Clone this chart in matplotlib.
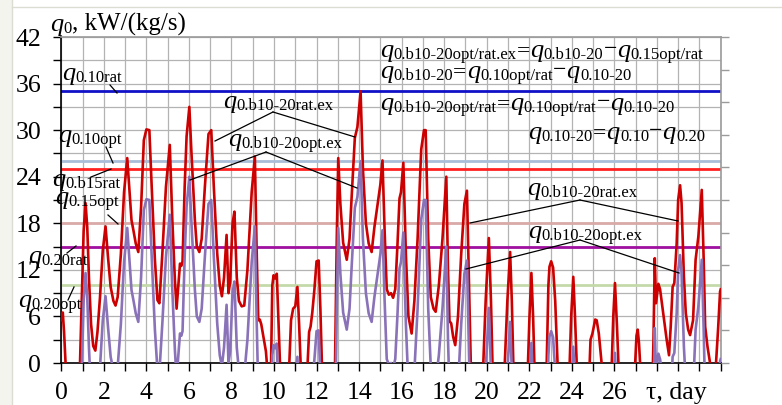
import matplotlib
matplotlib.use('Agg')
import matplotlib.pyplot as plt
from matplotlib.lines import Line2D
from matplotlib.patches import Rectangle
import numpy as np

plt.rcParams['font.family'] = ['Liberation Serif', 'DejaVu Serif']

# ---------------- data ----------------
days = [
    0.00, 0.07, 0.13, 0.20, 0.28, 0.80, 0.88, 0.97, 1.05, 1.14,
    1.22, 1.30, 1.40, 1.50, 1.60, 1.70, 1.82, 1.95, 2.08, 2.20,
    2.32, 2.45, 2.55, 2.65, 2.80, 2.95, 3.10, 3.20, 3.30, 3.39,
    3.50, 3.62, 3.75, 3.88, 4.00, 4.14, 4.25, 4.40, 4.52, 4.61,
    4.75, 4.92, 5.10, 5.22, 5.34, 5.42, 5.58, 5.64, 5.70, 5.80,
    5.89, 6.02, 6.12, 6.28, 6.37, 6.49, 6.60, 6.75, 6.92, 7.05,
    7.17, 7.33, 7.45, 7.55, 7.65, 7.77, 7.86, 7.94, 8.05, 8.14,
    8.25, 8.35, 8.48, 8.60, 8.75, 8.95, 9.10, 9.18, 9.26, 9.33,
    9.40, 9.50, 9.62, 9.72, 9.85, 9.92, 9.98, 10.05, 10.13, 10.20,
    10.28, 10.35, 10.62, 10.72, 10.80, 10.90, 11.00, 11.10, 11.18, 11.25,
    11.30, 11.48, 11.58, 11.65, 11.72, 11.80, 11.90, 12.00, 12.10, 12.18,
    12.25, 12.32, 12.80, 12.87, 12.95, 13.02, 13.12, 13.25, 13.42, 13.55,
    13.65, 13.80, 13.92, 14.07, 14.18, 14.32, 14.45, 14.59, 14.72, 14.88,
    15.00, 15.10, 15.20, 15.30, 15.40, 15.50, 15.60, 15.70, 15.80, 15.90,
    15.97, 16.08, 16.20, 16.32, 16.47, 16.60, 16.75, 16.92, 17.05, 17.13,
    17.25, 17.37, 17.50, 17.60, 17.75, 17.92, 18.10, 18.18, 18.25, 18.33,
    18.42, 18.52, 18.65, 18.80, 18.95, 19.07, 19.17, 19.25, 19.32, 19.75,
    19.84, 19.95, 20.10, 20.20, 20.27, 20.33, 20.76, 20.85, 20.97, 21.10,
    21.18, 21.25, 21.30, 21.86, 21.94, 22.01, 22.10, 22.18, 22.24, 22.30,
    22.74, 22.82, 22.90, 22.95, 23.03, 23.12, 23.22, 23.33, 23.40, 23.84,
    23.90, 23.97, 24.07, 24.15, 24.23, 24.30, 24.77, 24.84, 24.88, 24.97,
    25.10, 25.17, 25.27, 25.40, 25.47, 25.82, 25.88, 25.95, 26.03, 26.12,
    26.19, 26.25, 26.92, 26.98, 27.04, 27.10, 27.16, 27.21, 27.27, 27.78,
    27.84, 27.90, 27.96, 28.07, 28.15, 28.30, 28.46, 28.57, 28.65, 28.74,
    28.82, 28.93, 29.00, 29.09, 29.16, 29.27, 29.36, 29.47, 29.56, 29.70,
    29.82, 29.95, 30.11, 30.20, 30.27, 30.38, 30.50, 30.58, 30.70, 30.78,
    30.88, 30.97, 31.00,
]

q_rat_ex = [
    5.5, 6.5, 4.0, 0.0, -4.0, -4.0, 0.0, 9.0, 17.0, 20.6,
    17.5, 11.0, 5.0, 2.2, 1.6, 4.0, 8.5, 14.5, 17.6, 13.5,
    9.8, 8.0, 7.4, 8.5, 14.0, 22.0, 26.4, 22.5, 18.4, 17.1,
    15.4, 14.3, 20.0, 28.7, 30.1, 30.0, 22.7, 13.3, 8.1, 7.7,
    14.1, 22.7, 28.1, 18.4, 10.7, 7.0, 12.8, 12.5, 13.1, 22.7,
    29.2, 33.0, 27.0, 18.4, 15.0, 14.3, 16.0, 22.7, 29.5, 30.0,
    22.7, 14.1, 10.0, 8.6, 11.0, 16.5, 9.0, 10.5, 18.0, 19.5,
    11.0, 8.0, 7.3, 7.4, 12.0, 22.0, 26.6, 15.0, 5.5, 5.6,
    5.0, 3.4, 1.5, -2.0, -2.0, 10.0, 11.3, 10.9, 11.5, 6.0,
    0.0, -4.0, -4.0, 0.0, 5.5, 7.0, 7.3, 9.8, 5.0, 0.0,
    -3.0, -3.0, 0.0, 4.0, 4.7, 6.5, 9.5, 13.1, 13.2, 7.0,
    0.0, -4.0, -4.0, 0.0, 16.0, 26.4, 20.5, 15.5, 13.3, 16.0,
    21.4, 29.0, 30.4, 35.0, 25.0, 18.0, 15.4, 14.3, 17.5, 20.6,
    23.0, 26.1, 17.0, 9.5, 8.8, 9.0, 8.4, 9.5, 15.0, 21.2,
    22.0, 25.8, 14.0, 6.0, 3.8, 8.0, 16.0, 27.5, 30.0, 30.0,
    16.0, 8.5, 7.0, 6.6, 10.0, 16.0, 24.0, 12.0, 5.4, 5.1,
    3.4, 2.3, 6.0, 14.0, 20.5, 22.2, 10.0, 0.0, -4.0, -4.0,
    0.0, 8.0, 16.1, 8.0, 0.0, -4.0, -4.0, 0.0, 8.0, 14.3,
    8.0, 0.0, -4.0, -4.0, 0.0, 6.0, 11.6, 6.0, 0.0, -4.0,
    -4.0, 0.0, 10.0, 12.4, 13.1, 12.3, 8.0, 0.0, -4.0, -4.0,
    0.0, 6.0, 11.1, 6.0, 0.0, -4.0, -4.0, 0.0, 3.0, 3.8,
    5.6, 5.5, 3.8, 0.0, -4.0, -4.0, 0.0, 6.0, 10.3, 5.0,
    0.0, -4.0, -4.0, 0.0, 3.5, 4.3, 2.5, 0.0, -4.0, -4.0,
    3.0, 13.5, 7.7, 10.2, 9.5, 6.4, 3.0, 1.0, 4.7, 9.8,
    10.3, 15.4, 21.0, 22.9, 20.6, 11.1, 6.4, 4.3, 3.6, 5.5,
    13.3, 16.3, 22.3, 13.3, 4.7, 2.1, 0.0, -3.0, -3.0, 0.0,
    4.5, 9.2, 9.5,
]

q_opt_ex = [
    -3.5, -2.5, -5.0, -9.0, -13.0, -13.0, -9.0, 0.0, 8.0, 11.6,
    8.5, 2.0, -4.0, -6.8, -7.4, -5.0, -0.5, 5.5, 8.6, 4.5,
    0.8, -1.0, -1.6, -0.5, 5.0, 13.0, 17.4, 13.5, 9.4, 8.1,
    6.4, 5.3, 11.0, 19.7, 21.1, 21.0, 13.7, 4.3, -0.9, -1.3,
    5.1, 13.7, 19.1, 9.4, 1.7, -2.0, 3.8, 3.5, 4.1, 13.7,
    20.2, 24.0, 18.0, 9.4, 6.0, 5.3, 7.0, 13.7, 20.5, 21.0,
    13.7, 5.1, 1.0, -0.4, 2.0, 7.5, 0.0, 1.5, 9.0, 10.5,
    2.0, -1.0, -1.7, -1.6, 3.0, 13.0, 17.6, 6.0, -3.5, -3.4,
    -4.0, -5.6, -7.5, -11.0, -11.0, 1.0, 2.3, 1.9, 2.5, -3.0,
    -9.0, -13.0, -13.0, -9.0, -3.5, -2.0, -1.7, 0.8, -4.0, -9.0,
    -12.0, -12.0, -9.0, -5.0, -4.3, -2.5, 0.5, 4.1, 4.2, -2.0,
    -9.0, -13.0, -13.0, -9.0, 7.0, 17.4, 11.5, 6.5, 4.3, 7.0,
    12.4, 20.0, 21.4, 26.0, 16.0, 9.0, 6.4, 5.3, 8.5, 11.6,
    14.0, 17.1, 8.0, 0.5, -0.2, 0.0, -0.6, 0.5, 6.0, 12.2,
    13.0, 16.8, 5.0, -3.0, -5.2, -1.0, 7.0, 18.5, 21.0, 21.0,
    7.0, -0.5, -2.0, -2.4, 1.0, 7.0, 15.0, 3.0, -3.6, -3.9,
    -5.6, -6.7, -3.0, 5.0, 11.5, 13.2, 1.0, -9.0, -13.0, -13.0,
    -9.0, -1.0, 7.1, -1.0, -9.0, -13.0, -13.0, -9.0, -1.0, 5.3,
    -1.0, -9.0, -13.0, -13.0, -9.0, -3.0, 2.6, -3.0, -9.0, -13.0,
    -13.0, -9.0, 1.0, 3.4, 4.1, 3.3, -1.0, -9.0, -13.0, -13.0,
    -9.0, -3.0, 2.1, -3.0, -9.0, -13.0, -13.0, -9.0, -6.0, -5.2,
    -3.4, -3.5, -5.2, -9.0, -13.0, -13.0, -9.0, -3.0, 1.3, -4.0,
    -9.0, -13.0, -13.0, -9.0, -5.5, -4.7, -6.5, -9.0, -13.0, -13.0,
    -6.0, 4.5, -1.3, 1.2, 0.5, -2.6, -6.0, -8.0, -4.3, 0.8,
    1.3, 6.4, 12.0, 13.9, 11.6, 2.1, -2.6, -4.7, -5.4, -3.5,
    4.3, 7.3, 13.3, 4.3, -4.3, -6.9, -9.0, -12.0, -12.0, -9.0,
    -4.5, 0.2, 0.5,
]

assert len(days) == len(q_rat_ex) == len(q_opt_ex)

# horizontal reference levels
level_names = ['0.10rat', '0.10opt', '0.b15rat', '0.15opt', '0.20rat', '0.20opt']
level_values = [35.0, 26.0, 25.0, 18.0, 15.0, 10.0]
level_colors = ['#1010c8', '#a9bcd8', '#ff2020', '#d9aaa8', '#a010a0', '#c4d9aa']

x_ticks = list(range(0, 32))
x_ticklabels = [str(d) if (d % 2 == 0 and d <= 26) else '' for d in x_ticks]
y_ticks = list(range(0, 43, 3))
y_ticklabels = [str(v) if v % 6 == 0 else '' for v in y_ticks]

# ---------------- figure ----------------
W, H = 782, 405
fig = plt.figure(figsize=(W / 100, H / 100), dpi=100)
fig.patch.set_facecolor('white')

# document frame
fig.add_artist(Rectangle((0, 0), 12 / W, 1, transform=fig.transFigure,
                         facecolor='#f4f4ee', edgecolor='none', zorder=0))
fig.add_artist(Line2D([12 / W, 12 / W], [0, 1], color='#dcdcd2', lw=1.0))
fig.add_artist(Line2D([12 / W, 1], [1 - 7 / H, 1 - 7 / H], color='#dcdcd2', lw=1.0))

L, R, T, B = 61.3, 720.7, 37.0, 363.0
ax = fig.add_axes([L / W, 1 - B / H, (R - L) / W, (B - T) / H])
ax.set_xlim(0, 31)
ax.set_ylim(0, 42)

ax.set_xticks(x_ticks)
ax.set_xticklabels(x_ticklabels)
ax.set_yticks(y_ticks)
ax.set_yticklabels(y_ticklabels)
ax.tick_params(axis='both', direction='out', length=5.5, width=1.0,
               labelsize=18.5, color='black', pad=8)
ax.tick_params(axis='y', pad=9)
ax.grid(True, color='#b3b3b3', lw=0.9, zorder=0)
ax.set_axisbelow(True)

for s in ['left', 'bottom']:
    ax.spines[s].set_color('black')
    ax.spines[s].set_linewidth(1.2)
for s in ['top', 'right']:
    ax.spines[s].set_color('#9a9a9a')
    ax.spines[s].set_linewidth(1.2)

ax2 = ax.twinx()
ax2.set_ylim(0, 42)
ax2.set_yticks(np.linspace(0, 42, 11))
ax2.set_yticklabels([])
ax2.tick_params(axis='y', direction='out', length=5.5, width=1.0, color='#9a9a9a')
for s in ax2.spines.values():
    s.set_visible(False)

for v, c in zip(level_values, level_colors):
    ax.axhline(v, color=c, lw=2.0, zorder=2)

ax.plot(days, q_rat_ex, color='#cc0000', lw=1.9, zorder=3, solid_joinstyle='round')
ax.plot(days, q_opt_ex, color='#8a72b8', lw=1.9, zorder=3, solid_joinstyle='round')

# ---------------- text ----------------
renderer = fig.canvas.get_renderer()


def fx(x):
    return x / W


def fy(y):
    return 1 - y / H


def lead(x1, y1, x2, y2):
    fig.add_artist(Line2D([fx(x1), fx(x2)], [fy(y1), fy(y2)], color='black', lw=0.9, zorder=5))


STYLES = {
    'q': dict(size=19, style='italic', dy=0.0),
    's': dict(size=12.0, style='normal', dy=2.0),
    'o': dict(size=17, style='normal', dy=0.0),
    'm': dict(size=17, style='normal', dy=-2.0),
    't': dict(size=18, style='normal', dy=0.0),
}


def rich(x, y, pieces):
    """x: left pixel, y: baseline pixel from top"""
    cx = x
    for s, kind in pieces:
        st = STYLES[kind]
        t = fig.text(fx(cx), fy(y + st['dy']), s, fontsize=st['size'], style=st['style'],
                     ha='left', va='baseline', zorder=6)
        bb = t.get_window_extent(renderer)
        cx += bb.width + (0.5 if kind == 'q' else 0.0)


HY = '\u2010'


def qsub(sub):
    return [('q', 'q'), (sub, 's')]


rich(50, 31, [('q', 'q'), ('0', 's'), (', kW/(kg/s)', 't')])
fig.text(fx(676), fy(393), '\u03c4, day', fontsize=18.5, ha='center', va='center')

# level labels
label_pos = [(62, 80), (58, 142), (52, 186), (55, 204), (28, 263), (18, 307)]
for name, (lx, ly) in zip(level_names, label_pos):
    rich(lx, ly, qsub(name))
lead(110, 85, 117, 93)
lead(106, 147, 113, 163)
lead(91, 177, 111, 169)
lead(108, 215, 118, 224)
lead(67, 253, 76, 246)
lead(68, 300, 74, 287)

# curve labels
rat_ex = '0.b10' + HY + '20rat.ex'
opt_ex = '0.b10' + HY + '20opt.ex'
rich(223, 108, qsub(rat_ex))
lead(273, 112, 215, 141)
lead(273, 112, 355, 137)
rich(228, 146, qsub(opt_ex))
lead(266, 152, 190, 180)
lead(266, 152, 357, 188)
rich(527, 195, qsub(rat_ex))
lead(580, 200, 470, 223)
lead(580, 200, 678, 221)
rich(528, 238, qsub(opt_ex))
lead(580, 240, 466, 269)
lead(580, 240, 679, 273)

# formulas
EQ, MI = ('=', 'o'), ('\u2212', 'm')
rich(380, 57, qsub('0.b10' + HY + '20opt/rat.ex') + [EQ] + qsub('0.b10' + HY + '20')
     + [MI] + qsub('0.15opt/rat'))
rich(380, 78, qsub('0.b10' + HY + '20') + [EQ] + qsub('0.10opt/rat') + [MI]
     + qsub('0.10' + HY + '20'))
rich(380, 110, qsub('0.b10' + HY + '20opt/rat') + [EQ] + qsub('0.10opt/rat') + [MI]
     + qsub('0.10' + HY + '20'))
rich(528, 139, qsub('0.10' + HY + '20') + [EQ] + qsub('0.10') + [MI] + qsub('0.20'))

fig.savefig('out.png', dpi=100)
